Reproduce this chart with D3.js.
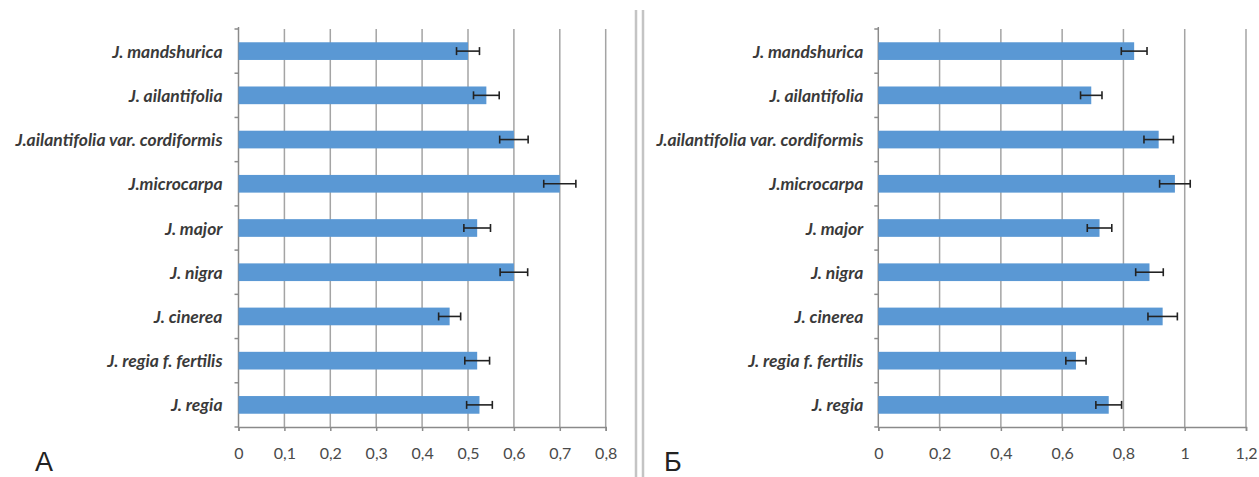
<!DOCTYPE html>
<html>
<head>
<meta charset="utf-8">
<script src="https://cdn.jsdelivr.net/npm/d3@7/dist/d3.min.js"></script>
<style>
  html, body { margin: 0; padding: 0; background: #fff; }
  svg { display: block; }
  .cat { font-family: Lato, "Open Sans", sans-serif; font-style: italic; font-weight: 700; font-size: 17.5px; fill: #3a3a3a; }
  .tick-label { font-family: Lato, "Open Sans", sans-serif; font-size: 16px; fill: #4a4a4a; }
  .panel-letter { font-family: "Liberation Sans", Arial, sans-serif; font-size: 27px; fill: #222; }
</style>
</head>
<body>
<svg id="chart" width="1259" height="477"></svg>
<script>
// Species (top to bottom)
const categories = [
  "J. mandshurica",
  "J. ailantifolia",
  "J.ailantifolia var. cordiformis",
  "J.microcarpa",
  "J. major",
  "J. nigra",
  "J. cinerea",
  "J. regia f. fertilis",
  "J. regia"
];

// Panel А
const valuesA = [0.50, 0.54, 0.60, 0.70, 0.52, 0.60, 0.46, 0.52, 0.525];
const errorsA = [0.025, 0.028, 0.031, 0.035, 0.029, 0.030, 0.024, 0.027, 0.028];
const ticksA  = [0, 0.1, 0.2, 0.3, 0.4, 0.5, 0.6, 0.7, 0.8];

// Panel Б
const valuesB = [0.835, 0.695, 0.915, 0.968, 0.722, 0.885, 0.928, 0.645, 0.752];
const errorsB = [0.042, 0.035, 0.048, 0.050, 0.040, 0.045, 0.048, 0.033, 0.042];
const ticksB  = [0, 0.2, 0.4, 0.6, 0.8, 1, 1.2];

const panelLetters = ["А", "Б"];

const svg = d3.select("#chart");
const fmt = d => String(+d.toFixed(2)).replace(".", ",");

function drawPanel(opts) {
  const { values, errors, ticks, x0, x1, y0, y1, labelGap, letter, letterX } = opts;
  const g = svg.append("g");

  const x = d3.scaleLinear().domain([0, ticks[ticks.length - 1]]).range([x0, x1]);
  const y = d3.scaleBand().domain(categories).range([y0, y1])
    .paddingInner(0.6).paddingOuter(0.3);
  const step = y.step();

  // vertical gridlines
  g.append("g").selectAll("line").data(ticks.slice(1)).join("line")
    .attr("x1", d => x(d)).attr("x2", d => x(d))
    .attr("y1", y0).attr("y2", y1)
    .attr("stroke", "#a4a4a4").attr("stroke-width", 1.5);

  // bottom axis
  const xAxis = d3.axisBottom(x).tickValues(ticks).tickSize(4).tickFormat(fmt).tickPadding(17);
  const ax = g.append("g").attr("transform", `translate(0,${y1})`).call(xAxis);
  ax.select(".domain").attr("stroke", "#8a8a8a").attr("stroke-width", 1.5);
  ax.selectAll(".tick line").attr("stroke", "#8a8a8a").attr("stroke-width", 1.5);
  ax.selectAll(".tick text").attr("class", "tick-label").attr("fill", null);

  // left axis with boundary ticks between categories
  g.append("line").attr("x1", x0).attr("x2", x0).attr("y1", y0 - 2).attr("y2", y1)
    .attr("stroke", "#8a8a8a").attr("stroke-width", 1.5);
  const bounds = categories.map(c => y(c) - (step - y.bandwidth()) / 2).concat([y1]);
  g.append("g").selectAll("line").data(bounds).join("line")
    .attr("x1", x0 - 4).attr("x2", x0)
    .attr("y1", d => d).attr("y2", d => d)
    .attr("stroke", "#8a8a8a").attr("stroke-width", 1.5);

  // bars
  g.append("g").selectAll("rect").data(values).join("rect")
    .attr("x", x(0))
    .attr("y", (d, i) => y(categories[i]))
    .attr("width", d => x(d) - x(0))
    .attr("height", y.bandwidth())
    .attr("fill", "#5a98d4");

  // error bars
  const eb = g.append("g").attr("stroke", "#222").attr("stroke-width", 1.6);
  values.forEach((v, i) => {
    const cy = y(categories[i]) + y.bandwidth() / 2;
    const lo = x(v - errors[i]), hi = x(v + errors[i]);
    eb.append("line").attr("x1", lo).attr("x2", hi).attr("y1", cy).attr("y2", cy);
    eb.append("line").attr("x1", lo).attr("x2", lo).attr("y1", cy - 4).attr("y2", cy + 4);
    eb.append("line").attr("x1", hi).attr("x2", hi).attr("y1", cy - 4).attr("y2", cy + 4);
  });

  // category labels
  g.append("g").selectAll("text").data(categories).join("text")
    .attr("class", "cat")
    .attr("text-anchor", "end")
    .attr("dominant-baseline", "central")
    .attr("x", x0 - labelGap)
    .attr("y", d => y(d) + y.bandwidth() / 2)
    .text(d => d);

  // panel letter
  svg.append("text").attr("class", "panel-letter")
    .attr("x", letterX).attr("y", 471).text(letter);
}

drawPanel({ values: valuesA, errors: errorsA, ticks: ticksA,
  x0: 238.5, x1: 605.7, y0: 29, y1: 427, labelGap: 16,
  letter: panelLetters[0], letterX: 35 });

drawPanel({ values: valuesB, errors: errorsB, ticks: ticksB,
  x0: 878.3, x1: 1246, y0: 29, y1: 427, labelGap: 15,
  letter: panelLetters[1], letterX: 664 });

// double separator between the panels
svg.append("g").selectAll("line").data([636, 643]).join("line")
  .attr("x1", d => d).attr("x2", d => d).attr("y1", 10).attr("y2", 477)
  .attr("stroke", "#c4c4c4").attr("stroke-width", 2.5);
</script>
</body>
</html>
